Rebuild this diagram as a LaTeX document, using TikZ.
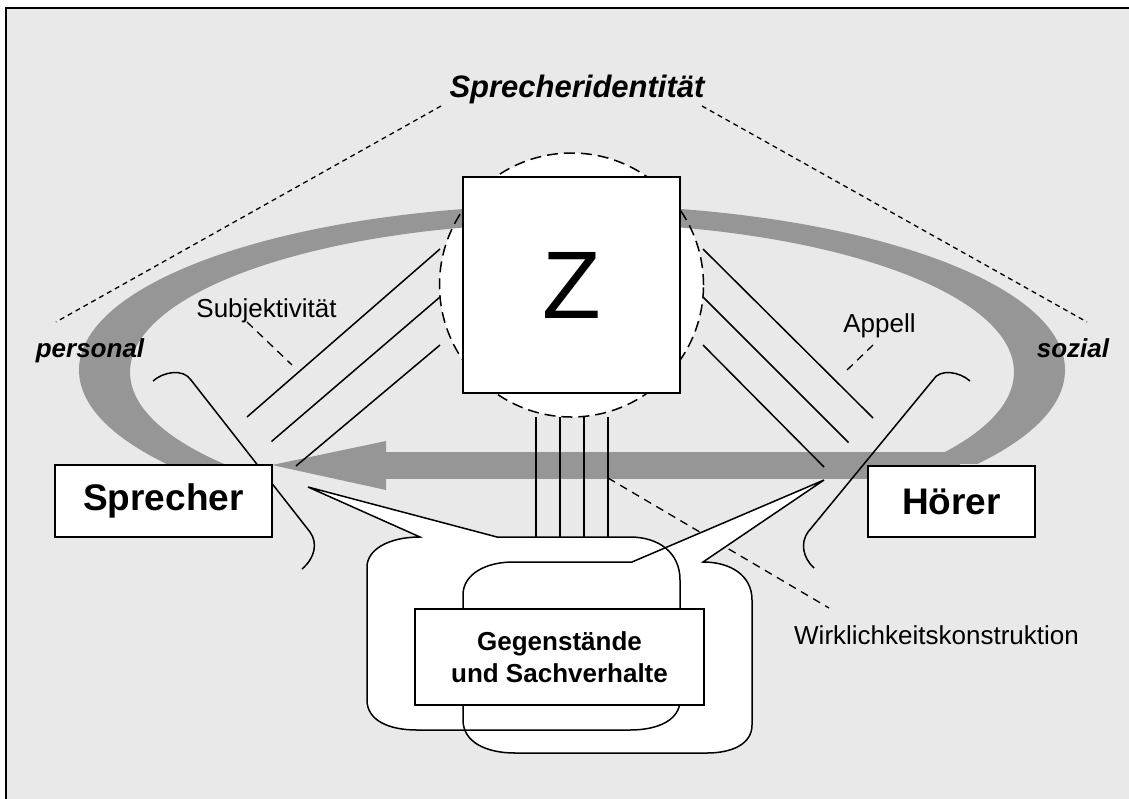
\documentclass[tikz,border=0pt]{standalone}
\usepackage{fontspec}
\setmainfont{Liberation Sans}
\definecolor{paper}{RGB}{233,233,233}
\definecolor{band}{RGB}{150,150,150}

\begin{document}
\begin{tikzpicture}[
        x=1pt, y=-1pt,
        box/.style={draw, line width=1.8pt, fill=white, inner sep=0pt, align=center},
        bigtxt/.style={font=\fontsize{37}{40}\selectfont\bfseries},
        lbl/.style={font=\fontsize{26}{30}\selectfont, inner sep=0pt, anchor=base},
        pole/.style={font=\fontsize{26}{30}\selectfont\bfseries\itshape, inner sep=0pt, anchor=base},
        title/.style={font=\fontsize{31}{34}\selectfont\bfseries\itshape, inner sep=0pt, anchor=base},
        ray/.style={line width=1.5pt},
        guide/.style={line width=1.3pt, dash pattern=on 8pt off 6pt},
        wing/.style={line width=1.3pt, dash pattern=on 5pt off 4pt},
        halo/.style={line width=1.5pt, dash pattern=on 11pt off 6pt}
    ]
    \useasboundingbox (0,0) rectangle (1129,798);

% --- Frame ---
    \draw[fill=paper, line width=2pt] (6,8) rectangle (1140,810);

% --- Identity wings (dashed) ---
    \coordinate (identL) at (441,106);
    \coordinate (identR) at (702,106);
    \coordinate (persT) at (56,322);
    \coordinate (sozT) at (1087,322);
    \draw[wing] (identL) -- (persT);
    \draw[wing] (identR) -- (sozT);

% --- Circle behind Z ---
    \coordinate (zc) at (571.5,285);
    \fill[white] (zc) circle[radius=132pt];

% --- Grey loop and arrow ---
    \begin{scope}
        \clip (0,0) rectangle (1129,463);
        \fill[band, even odd rule] (572,370) ellipse[x radius=493pt, y radius=165pt]
                                   (572,372) ellipse[x radius=442pt, y radius=149pt];
    \end{scope}
    \fill[band] (386,452) rectangle (960,479);
    \fill[band] (386,441) -- (272,465) -- (386,490) -- cycle;

    \draw[halo] (zc) circle[radius=132pt];

% --- Line bundles ---
    \foreach \i in {0,1,2} {
        \draw[ray] (440,249+48*\i) -- (247+24.5*\i,417+24.5*\i);
        \draw[ray] (703,249+48*\i) -- (873-24.5*\i,418+24.5*\i);
    }
    \foreach \x in {536,560,584,608}
        \draw[ray] (\x,417) -- (\x,537);

% --- Hooks at speaker and hearer ---
    \draw[ray] (153,381) .. controls (163,372) and (183,368) .. (191,380) -- (310,532)
               .. controls (318,543) and (315,558) .. (302,569);
    \draw[ray] (970,381) .. controls (960,372) and (940,368) .. (933,380) -- (808,532)
               .. controls (800,543) and (803,558) .. (814,568);

% --- Label pointers (dashed) ---
    \draw[guide] (247,322) -- (292,365);
    \draw[guide] (873,345) -- (847,370);
    \draw[guide] (608,478) -- (829,608);

% --- Speech bubbles ---
    \coordinate (tipS) at (308,487);
    \coordinate (tipH) at (824,480);
    \path[save path=\bubS] (420,537) -- (tipS) -- (497,537) -- (630,537)
        .. controls (658,537) and (680,552) .. (680,580) -- (680,700)
        .. controls (680,720) and (658,730) .. (630,730) -- (417,730)
        .. controls (388,730) and (367,720) .. (367,700) -- (367,567)
        .. controls (367,550) and (388,537) .. (420,537) -- cycle;
    \path[save path=\bubH] (632,562) -- (tipH) -- (703,562)
        .. controls (730,562) and (752,575) .. (752,600) -- (752,725)
        .. controls (752,744) and (732,753) .. (707,753) -- (515,753)
        .. controls (486,753) and (463,742) .. (463,720) -- (463,595)
        .. controls (463,574) and (486,562) .. (513,562) -- cycle;
    \fill[white, use path=\bubS];
    \fill[white, use path=\bubH];
    \draw[ray, use path=\bubS];
    \draw[ray, use path=\bubH];

% --- Boxes ---
    \node[box, minimum width=217pt, minimum height=216pt, font=\fontsize{96}{100}\selectfont] (zbox) at (571.5,285) {Z};
    \node[box, bigtxt, minimum width=217pt, minimum height=72pt] (spr) at (163.5,501) {Sprecher};
    \node[box, bigtxt, minimum width=167pt, minimum height=71pt] (hoer) at (951.5,501.5) {Hörer};
    \node[box, font=\fontsize{26}{32}\selectfont\bfseries, minimum width=289pt, minimum height=96pt] (gs) at (559.5,657) {Gegenstände\\und Sachverhalte};

% --- Labels ---
    \node[title] (ident) at (577,97) {Sprecheridentität};
    \node[pole] (pers) at (90,357) {personal};
    \node[pole] (soz) at (1073,357) {sozial};
    \node[lbl] (subj) at (266.5,317) {Subjektivität};
    \node[lbl] (app) at (879.5,332) {Appell};
    \node[lbl] (wirk) at (936.5,644) {Wirklichkeitskonstruktion};

\end{tikzpicture}
\end{document}
